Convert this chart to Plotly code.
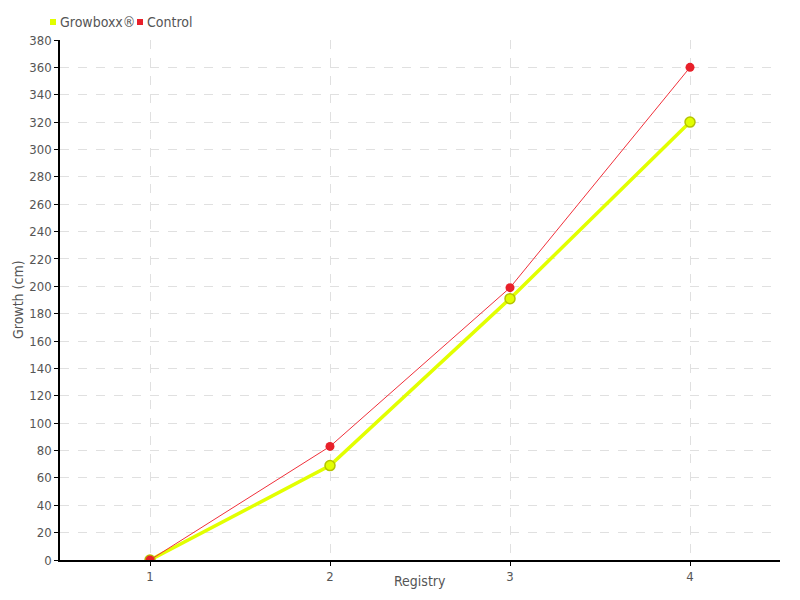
import plotly.graph_objects as go

registry = [1, 2, 3, 4]
growboxx = [0, 69, 191, 320]
control = [0, 83, 199, 360]
y_ticks = list(range(0, 381, 20))
series_names = ["Growboxx®", "Control"]
x_title = "Registry"
y_title = "Growth (cm)"

FONT = "DejaVu Sans Condensed, Liberation Sans Narrow, sans-serif"
YEL = "#e2ff00"
RED = "#e8202a"
TXT = "#555555"

fig = go.Figure()
fig.add_trace(go.Scatter(
    x=registry, y=growboxx, mode="lines+markers", name=series_names[0],
    line=dict(color=YEL, width=3.5),
    marker=dict(size=10, color=YEL, line=dict(color="#b5c400", width=1.5)),
    showlegend=False))
fig.add_trace(go.Scatter(
    x=registry, y=control, mode="lines+markers", name=series_names[1],
    line=dict(color="#f0303a", width=1),
    marker=dict(size=9, color=RED, line=dict(color=RED, width=0)),
    showlegend=False))

# custom legend (square swatch + text) at top-left, positions in reference pixels
legend_x = [50, 137]
colors = [YEL, RED]
shapes = []
annotations = []
for lx, name, c in zip(legend_x, series_names, colors):
    shapes.append(dict(type="rect", xref="paper", yref="paper",
                       x0=(lx - 60) / 720, x1=(lx - 54) / 720,
                       y0=(560 - 25) / 520, y1=(560 - 19) / 520,
                       fillcolor=c, line=dict(width=0)))
    annotations.append(dict(text=name, xref="paper", yref="paper",
                            x=(lx - 52) / 720, y=(560 - 22) / 520,
                            xanchor="left", yanchor="middle", showarrow=False,
                            font=dict(size=14, color=TXT, family=FONT)))

# axis titles placed as annotations
annotations.append(dict(text=x_title, xref="paper", yref="paper",
                        x=0.5, y=(560 - 581) / 520, xanchor="center", yanchor="middle",
                        showarrow=False, font=dict(size=14, color=TXT, family=FONT)))
annotations.append(dict(text=y_title, xref="paper", yref="paper", textangle=-90,
                        x=(18 - 60) / 720, y=(560 - 300) / 520, xanchor="center", yanchor="middle",
                        showarrow=False, font=dict(size=14, color=TXT, family=FONT)))

# page body has an 8px margin, so offset the figure margins accordingly
fig.update_layout(
    width=792, height=592,
    margin=dict(l=52, r=20, t=32, b=40, autoexpand=False),
    paper_bgcolor="white", plot_bgcolor="white",
    font=dict(family=FONT, size=13, color=TXT),
    showlegend=False,
    shapes=shapes, annotations=annotations,
    xaxis=dict(
        range=[0.5, 4.5], tickvals=registry, ticktext=[str(r) for r in registry],
        showline=True, linecolor="black", linewidth=1.5,
        ticks="outside", ticklen=4, tickcolor="black",
        tickfont=dict(size=13, color=TXT),
        showgrid=True, gridcolor="#e0e0e0", griddash="dash", gridwidth=1,
        zeroline=False, automargin=False,
    ),
    yaxis=dict(
        range=[0, 380], tickvals=y_ticks,
        showline=True, linecolor="black", linewidth=1.5,
        ticks="outside", ticklen=4, tickcolor="black",
        tickfont=dict(size=13, color=TXT),
        showgrid=True, gridcolor="#e0e0e0", griddash="dash", gridwidth=1,
        zeroline=False, automargin=False,
    ),
)
fig.write_html("out.html")
